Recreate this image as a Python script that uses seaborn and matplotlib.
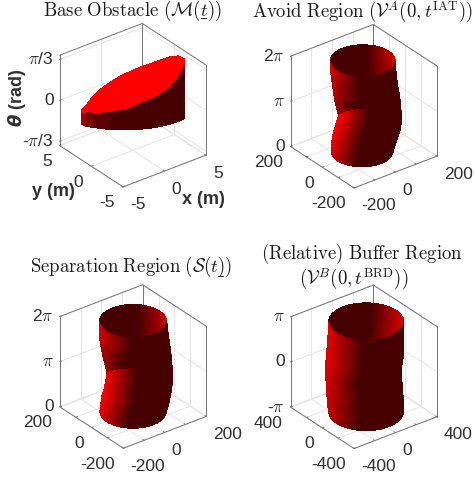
import numpy as np
import matplotlib
matplotlib.use('Agg')
import matplotlib.pyplot as plt
from matplotlib.lines import Line2D
import seaborn as sns
from mpl_toolkits.mplot3d import proj3d

# Configuration
W_PX, H_PX = 474, 481
DPI = 100
AXES_PX = 175.4
TICK_COLOR = '#303030'
BOX_COLOR = '#747474'
GRID_COLOR = '#e4e4e4'
AZ = np.radians(37.5)
RIGHT = np.array([np.cos(AZ), -np.sin(AZ), 0.0])
DEPTH = np.array([np.sin(AZ), np.cos(AZ), 0.0])
CAMERA = np.array([-np.sin(AZ) * 0.866, -np.cos(AZ) * 0.866, 0.5])

# Tube outlines, left and right edge across the view at each height fraction,
# tilt is how far the front of each ring rises above its sides (rad)
avoid_frac = [0, .08, .17, .25, .32, .39, .46, .54, .62, .7, .8, .9, 1]
avoid_left = [-125, -124, -119, -112, -105, -96, -102, -109, -114, -118, -123, -127, -128]
avoid_right = [112, 121, 132, 141, 144, 144, 143, 141, 137, 132, 127, 123, 121]
avoid_tilt = [0, .35, .7, 1.0, 1.3, 1.65, 1.5, 1.2, .9, .6, .3, .1, 0]

sep_frac = [0, .08, .17, .25, .32, .38, .43, .5, .6, .7, .8, .9, 1]
sep_left = [-127, -124, -119, -111, -106, -102, -99, -105, -114, -121, -127, -129, -129]
sep_right = [127, 136, 143, 148, 151, 152, 152, 150, 147, 143, 138, 133, 129]
sep_tilt = [0, .3, .6, .85, 1.1, 1.35, 1.5, 1.3, .9, .6, .3, .1, 0]

buf_frac = [0, .08, .17, .25, .32, .39, .46, .54, .62, .7, .8, .9, 1]
buf_left = [-268, -276, -281, -286, -288, -291, -291, -291, -286, -281, -276, -271, -268]
buf_right = [304, 307, 302, 299, 294, 289, 286, 294, 304, 307, 309, 309, 307]
buf_tilt = [0] * 13

# Base obstacle rim, columns across the view
base_u = [-4.95, -4.54, -3.77, -2.97, -2.17, -1.21, -.26, .70, 1.66, 2.62, 3.58, 4.38, 4.95]
base_front_v = [.09, -.23, -.55, -.74, -.93, -1.0, -1.0, -.87, -.68, -.36, .09, .6, 1.18]
base_back_v = [.09, .6, 1.2, 1.6, 2.0, 2.3, 2.4, 2.4, 2.3, 2.1, 1.9, 1.6, 1.18]
base_front_top = [-.198, -.163, -.129, -.103, -.060, -.007, .053, .148, .251, .355, .476, .683, .907]
base_back_top = [-.155, -.111, .084, .220, .321, .436, .543, .655, .756, .877, .983, 1.049, 1.036]
base_bottom = [-.5] * 13

# Tick values and labels
ticks_5 = [-5, 0, 5]
labels_5 = ['-5', '0', '5']
ticks_200 = [-200, -100, 0, 100, 200]
labels_200 = ['-200', '', '0', '', '200']
ticks_400 = [-400, -200, 0, 200, 400]
labels_400 = ['-400', '', '0', '', '400']
z_ticks_base = [-np.pi / 3, 0, np.pi / 3]
z_labels_base = [r'-$\pi$/3', '0', r'$\pi$/3']
z_ticks_full = [0, np.pi, 2 * np.pi]
z_labels_full = ['0', r'$\pi$', r'2$\pi$']
z_ticks_sym = [-np.pi, 0, np.pi]
z_labels_sym = [r'-$\pi$', '0', r'$\pi$']

sns.set_theme(style='white')
plt.rcParams.update({
    'font.family': ['Liberation Sans', 'DejaVu Sans'],
    'mathtext.fontset': 'cm',
    'axes.unicode_minus': False,
})
CMAP = sns.blend_palette(['#470000', '#ff0000'], as_cmap=True)


def shade_mesh(X, Y, Z, limits):
    # facet colours from a light up and to the left of the view
    sx = limits[0][1] - limits[0][0]
    sy = limits[1][1] - limits[1][0]
    sz = limits[2][1] - limits[2][0]
    P = np.stack([X / sx, Y / sy, Z / sz], axis=-1)
    d1 = P[1:, 1:] - P[:-1, :-1]
    d2 = P[1:, :-1] - P[:-1, 1:]
    n = np.cross(d1, d2)
    n /= np.linalg.norm(n, axis=-1, keepdims=True) + 1e-12
    flip = (n @ CAMERA) < 0
    n[flip] *= -1
    light = -0.9 * RIGHT + 1.0 * np.array([0, 0, 1.0])
    t = np.clip(n @ light - 0.1, 0, 1)
    return CMAP(t)


def draw_frame(ax, xt, yt, zt, xl, yl, zl, limits):
    (x0, x1), (y0, y1), (z0, z1) = limits
    grid = dict(color=GRID_COLOR, lw=0.7, zorder=1)
    for v in xt:
        ax.plot([v, v], [y0, y1], [z0, z0], **grid)
        ax.plot([v, v], [y1, y1], [z0, z1], **grid)
    for v in yt:
        ax.plot([x0, x1], [v, v], [z0, z0], **grid)
        ax.plot([x1, x1], [v, v], [z0, z1], **grid)
    for v in zt:
        ax.plot([x0, x1], [y1, y1], [v, v], **grid)
        ax.plot([x1, x1], [y0, y1], [v, v], **grid)

    box = dict(color=BOX_COLOR, lw=0.7, zorder=1.5)
    ax.plot([x0, x1], [y1, y1], [z1, z1], **box)
    ax.plot([x1, x1], [y0, y1], [z1, z1], **box)
    ax.plot([x1, x1], [y1, y1], [z0, z1], **box)
    ax.plot([x0, x1], [y1, y1], [z0, z0], color=GRID_COLOR, lw=0.7, zorder=1.5)
    ax.plot([x1, x1], [y0, y1], [z0, z0], color=GRID_COLOR, lw=0.7, zorder=1.5)
    front = dict(color=BOX_COLOR, lw=0.7, zorder=4)
    ax.plot([x0, x0], [y1, y1], [z0, z1], **front)
    ax.plot([x1, x1], [y0, y0], [z0, z1], **front)
    ax.plot([x0, x1], [y0, y0], [z0, z0], **front)
    ax.plot([x0, x0], [y0, y1], [z0, z0], **front)

    # short ticks pointing into the box
    tick_x = 0.02 * (x1 - x0)
    tick_y = 0.02 * (y1 - y0)
    tick_z = 0.02 * (z1 - z0)
    for v in xt:
        ax.plot([v, v], [y0, y0 + tick_y], [z0, z0], **front)
    for v in yt:
        ax.plot([x0, x0 + tick_x], [v, v], [z0, z0], **front)
    for v in zt:
        ax.plot([x0, x0 + tick_x], [y1, y1], [v, v], **front)

    M = ax.get_proj()
    text = dict(color=TICK_COLOR, fontsize=12.5, textcoords='offset pixels',
                annotation_clip=False, zorder=5)
    for v, s in zip(xt, xl):
        px, py, _ = proj3d.proj_transform(v, y0, z0, M)
        ax.annotate(s, (px, py), xytext=(7, -17), ha='left', va='center', **text)
    for v, s in zip(yt, yl):
        px, py, _ = proj3d.proj_transform(x0, v, z0, M)
        ax.annotate(s, (px, py), xytext=(-8, -15), ha='right', va='center', **text)
    for v, s in zip(zt, zl):
        px, py, _ = proj3d.proj_transform(x0, y1, v, M)
        ax.annotate(s, (px, py), xytext=(-6, 1), ha='right', va='center', **text)


def make_axes(fig, cx, cy, limits):
    # cx, cy is where the middle of the box lands, in pixels from the top left
    left = (cx - 0.5135 * AXES_PX) / W_PX
    bottom = (H_PX - cy - 0.5135 * AXES_PX) / H_PX
    ax = fig.add_axes([left, bottom, AXES_PX / W_PX, AXES_PX / H_PX],
                      projection='3d', proj_type='ortho', computed_zorder=False)
    ax.view_init(elev=30, azim=-127.5)
    ax.set_xlim(*limits[0], view_margin=0)
    ax.set_ylim(*limits[1], view_margin=0)
    ax.set_zlim(*limits[2], view_margin=0)
    ax.set_box_aspect((1, 1, 1))
    ax.set_axis_off()
    ax.patch.set_alpha(0)
    return ax


def draw_tube(ax, frac, left, right, tilt, limits):
    frac = np.asarray(frac)
    left = np.asarray(left, float)
    right = np.asarray(right, float)
    centre = (left + right) / 2
    radius = (right - left) / 2
    z0, z1 = limits[2]
    theta = np.linspace(0, 2 * np.pi, 121)
    U = centre[:, None] + radius[:, None] * np.cos(theta)
    V = radius[:, None] * np.sin(theta)
    X = U * RIGHT[0] + V * DEPTH[0]
    Y = U * RIGHT[1] + V * DEPTH[1]
    Z = (z0 + frac * (z1 - z0))[:, None] - np.asarray(tilt)[:, None] * np.sin(theta)
    colors = shade_mesh(X, Y, Z, limits)
    ax.plot_surface(X, Y, Z, facecolors=colors, rstride=1, cstride=1, shade=False,
                    linewidth=0, edgecolor='none', antialiased=False, zorder=2)


def draw_base(ax, limits):
    u = np.asarray(base_u)
    vf = np.asarray(base_front_v)
    vb = np.asarray(base_back_v)
    U = np.vstack([u, u, u])
    V = np.vstack([vf, vf, vb])
    X = U * RIGHT[0] + V * DEPTH[0]
    Y = U * RIGHT[1] + V * DEPTH[1]
    Z = np.vstack([base_bottom, base_front_top, base_back_top])
    colors = shade_mesh(X, Y, Z, limits)
    colors[1] = CMAP(1.0)  # the top face stays fully lit
    ax.plot_surface(X, Y, Z, facecolors=colors, rstride=1, cstride=1, shade=False,
                    linewidth=0, edgecolor='none', antialiased=False, zorder=2)


fig = plt.figure(figsize=(W_PX / DPI, H_PX / DPI), dpi=DPI, facecolor='white')

lim_base = ((-5, 5), (-5, 5), (-1.157, 1.157))
ax = make_axes(fig, 132.7, 106.2, lim_base)
draw_frame(ax, ticks_5, ticks_5, z_ticks_base, labels_5, labels_5, z_labels_base, lim_base)
draw_base(ax, lim_base)

lim_avoid = ((-200, 200), (-200, 200), (0, 2 * np.pi))
ax = make_axes(fig, 363.7, 107.2, lim_avoid)
draw_frame(ax, ticks_200, ticks_200, z_ticks_full, labels_200, labels_200, z_labels_full, lim_avoid)
draw_tube(ax, avoid_frac, avoid_left, avoid_right, avoid_tilt, lim_avoid)

ax = make_axes(fig, 133, 367.5, lim_avoid)
draw_frame(ax, ticks_200, ticks_200, z_ticks_full, labels_200, labels_200, z_labels_full, lim_avoid)
draw_tube(ax, sep_frac, sep_left, sep_right, sep_tilt, lim_avoid)

lim_buf = ((-400, 400), (-400, 400), (-np.pi, np.pi))
ax = make_axes(fig, 363.7, 367.8, lim_buf)
draw_frame(ax, ticks_400, ticks_400, z_ticks_sym, labels_400, labels_400, z_labels_sym, lim_buf)
draw_tube(ax, buf_frac, buf_left, buf_right, buf_tilt, lim_buf)


def px_text(x, y, s, **kw):
    return fig.text(x / W_PX, 1 - y / H_PX, s, ha='center', va='center', **kw)


def underline(x0, x1, y):
    fig.add_artist(Line2D([x0 / W_PX, x1 / W_PX], [1 - y / H_PX] * 2, color='#1a1a1a', lw=0.7))


title = dict(fontsize=13.5, color='#1a1a1a')
px_text(132, 11, r'$\mathrm{Base\ Obstacle}\ (\mathcal{M}(t))$', **title)
px_text(362, 12, r'$\mathrm{Avoid\ Region}\ (\mathcal{V}^A(0,t^{\mathrm{IAT}}))$', **title)
px_text(131, 267, r'$\mathrm{Separation\ Region}\ (\mathcal{S}(t))$', **title)
px_text(362, 254, r'$\mathrm{(Relative)\ Buffer\ Region}$', **title)
px_text(354, 279, r'$(\mathcal{V}^B(0,t^{\mathrm{BRD}}))$', **title)
underline(201, 206, 19)
underline(218, 223, 277)

label = dict(fontsize=13, fontweight='bold', color=TICK_COLOR)
px_text(203, 199, 'x (m)', **label)
px_text(53, 191, 'y (m)', **label)
px_text(17, 98, r'$\boldsymbol{\theta}$ (rad)', rotation=90, math_fontfamily='dejavusans', **label)

fig.savefig('out.png', dpi=DPI, facecolor='white')
plt.close(fig)
